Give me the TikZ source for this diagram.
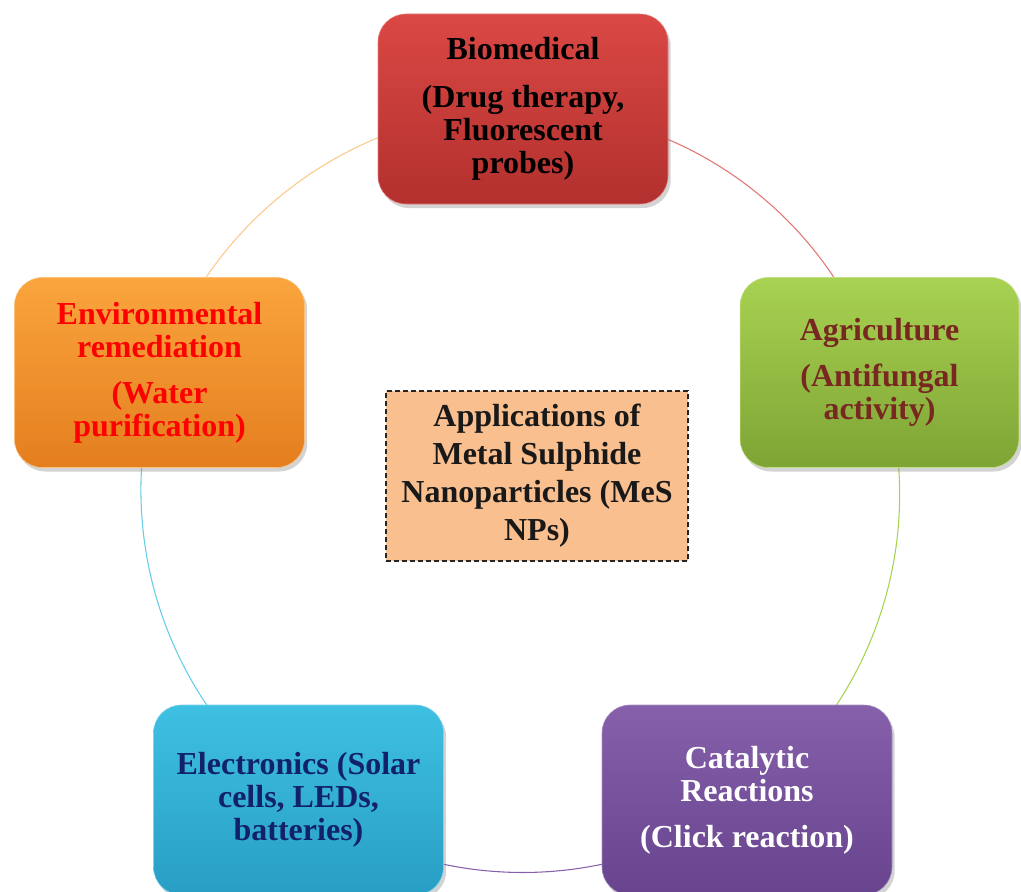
\documentclass[tikz,border=0pt]{standalone}
\usepackage{fontspec}
\setmainfont{Liberation Serif}
\usetikzlibrary{backgrounds,shadows}

\definecolor{biotop}{RGB}{218,72,68}
\definecolor{biobot}{RGB}{178,48,46}
\definecolor{envtop}{RGB}{250,165,62}
\definecolor{envbot}{RGB}{228,126,30}
\definecolor{agritop}{RGB}{168,210,82}
\definecolor{agribot}{RGB}{126,164,52}
\definecolor{electop}{RGB}{62,192,226}
\definecolor{elecbot}{RGB}{40,158,196}
\definecolor{cattop}{RGB}{134,96,170}
\definecolor{catbot}{RGB}{104,68,142}
\definecolor{midfill}{RGB}{249,191,143}
\definecolor{maroon}{RGB}{120,40,32}
\definecolor{navy}{RGB}{18,34,104}

\begin{document}
\begin{tikzpicture}[x=0.75pt, y=-0.75pt,
    appbox/.style={rounded corners=21pt, minimum width=217.5pt, minimum height=142.5pt,
      inner sep=0pt, align=center, font=\fontsize{24}{24.75}\selectfont\bfseries,
      drop shadow={opacity=0.35, shadow xshift=2pt, shadow yshift=-3pt}},
    midbox/.style={draw=black!85, line width=0.9pt, dash pattern=on 4pt off 2pt,
      fill=midfill, minimum width=226.5pt,
      minimum height=127.5pt, inner sep=0pt, align=center,
      font=\fontsize{24}{28.5}\selectfont\bfseries, text=black!90},
    ring/.style={line width=0.8pt, bend left=36, looseness=0.94}]
    \useasboundingbox (0,0) rectangle (1021,892);

    \node[appbox, draw=biotop!70!white, top color=biotop, bottom color=biobot, text=black] (bio) at (523,109)
      {Biomedical\\[11pt](Drug therapy,\\Fluorescent\\probes)};
    \node[appbox, draw=envtop!70!white, top color=envtop, bottom color=envbot, text=red] (env) at (159.5,372.5)
      {Environmental\\remediation\\[10pt](Water\\purification)};
    \node[appbox, minimum width=209pt, draw=agritop!70!white, top color=agritop, bottom color=agribot, text=maroon] (agri) at (879.5,372.5)
      {Agriculture\\[10pt](Antifungal\\activity)};
    \node[appbox, draw=electop!70!white, top color=electop, bottom color=elecbot, text=navy] (elec) at (298.5,800)
      {Electronics (Solar\\cells, LEDs,\\batteries)};
    \node[appbox, draw=cattop!70!white, top color=cattop, bottom color=catbot, text=white] (cat) at (747,800)
      {Catalytic\\Reactions\\[10pt](Click reaction)};
    \node[midbox] (mid) at (537,476)
      {Applications of\\Metal Sulphide\\Nanoparticles (MeS\\NPs)};

    \begin{scope}[on background layer]
      \draw[ring, biotop!75!white] (bio.center) to (agri.center);
      \draw[ring, agritop] (agri.center) to (cat.center);
      \draw[ring, cattop] (cat.center) to (elec.center);
      \draw[ring, electop!80!white] (elec.center) to (env.center);
      \draw[ring, envtop!60!white] (env.center) to (bio.center);
    \end{scope}
\end{tikzpicture}
\end{document}
